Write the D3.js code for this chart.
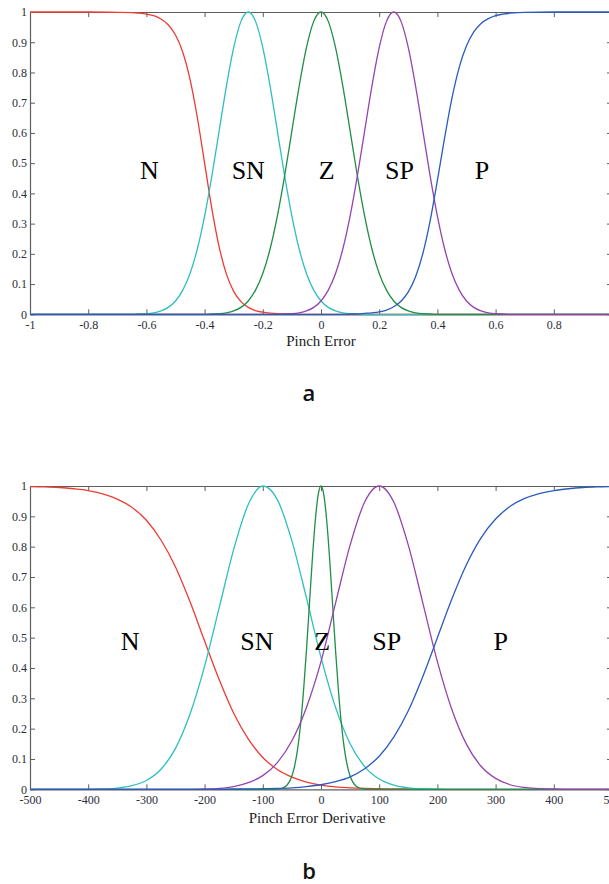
<!DOCTYPE html>
<html>
<head>
<meta charset="utf-8">
<script src="https://cdn.jsdelivr.net/npm/d3@7"></script>
<style>
  html, body { margin: 0; padding: 0; background: #fff; }
  svg { display: block; }
</style>
</head>
<body>
<svg id="chart" width="609" height="884"></svg>
<script>
// membership functions (a: pinch error, b: its derivative)

const termNames  = ["N", "SN", "Z", "SP", "P"];
const termColors = ["#ee3b33", "#2fbfbf", "#1e8f45", "#9544ad", "#2a5bbd"];

const gradeTicks  = [0, 0.1, 0.2, 0.3, 0.4, 0.5, 0.6, 0.7, 0.8, 0.9, 1];
const gradeLabels = ["0", "0.1", "0.2", "0.3", "0.4", "0.5", "0.6", "0.7", "0.8", "0.9", "1"];

// panel a
const errTicks  = [-1, -0.8, -0.6, -0.4, -0.2, 0, 0.2, 0.4, 0.6, 0.8, 1];
const errLabels = ["-1", "-0.8", "-0.6", "-0.4", "-0.2", "0", "0.2", "0.4", "0.6", "0.8", "1"];

const errX = [-1, -0.9, -0.8, -0.7,
  -0.65, -0.625, -0.6, -0.575, -0.55, -0.525, -0.5, -0.475, -0.45, -0.425,
  -0.4, -0.375, -0.35, -0.325, -0.3, -0.275, -0.25, -0.225, -0.2, -0.175,
  -0.15, -0.125, -0.1, -0.075, -0.05, -0.025, 0, 0.025, 0.05, 0.075,
  0.1, 0.125, 0.15, 0.175, 0.2, 0.225, 0.25, 0.275, 0.3, 0.325,
  0.35, 0.375, 0.4, 0.425, 0.45, 0.475, 0.5, 0.525, 0.55, 0.575,
  0.6, 0.625, 0.65,
  0.7, 0.8, 0.9, 1];

const errN = [1, 1, 1, 0.999,
  0.998, 0.996, 0.993, 0.988, 0.977, 0.958, 0.924, 0.867, 0.777, 0.651,
  0.5, 0.349, 0.223, 0.133, 0.076, 0.042, 0.023, 0.012, 0.007, 0.004,
  0.002, 0.001, 0.001, 0, 0, 0, 0, 0, 0, 0,
  0, 0, 0, 0, 0, 0, 0, 0, 0, 0,
  0, 0, 0, 0, 0, 0, 0, 0, 0, 0,
  0, 0, 0,
  0, 0, 0, 0];

const errSN = [0, 0, 0, 0,
  0, 0.001, 0.002, 0.005, 0.011, 0.023, 0.044, 0.08, 0.135, 0.216,
  0.325, 0.458, 0.607, 0.755, 0.882, 0.969, 1, 0.969, 0.882, 0.755,
  0.607, 0.458, 0.325, 0.216, 0.135, 0.08, 0.044, 0.023, 0.011, 0.005,
  0.002, 0.001, 0, 0, 0, 0, 0, 0, 0, 0,
  0, 0, 0, 0, 0, 0, 0, 0, 0, 0,
  0, 0, 0,
  0, 0, 0, 0];

const errZ = [0, 0, 0, 0,
  0, 0, 0, 0, 0, 0, 0, 0, 0, 0,
  0, 0.001, 0.002, 0.005, 0.011, 0.023, 0.044, 0.08, 0.135, 0.216,
  0.325, 0.458, 0.607, 0.755, 0.882, 0.969, 1, 0.969, 0.882, 0.755,
  0.607, 0.458, 0.325, 0.216, 0.135, 0.08, 0.044, 0.023, 0.011, 0.005,
  0.002, 0.001, 0, 0, 0, 0, 0, 0, 0, 0,
  0, 0, 0,
  0, 0, 0, 0];

const errSP = [0, 0, 0, 0,
  0, 0, 0, 0, 0, 0, 0, 0, 0, 0,
  0, 0, 0, 0, 0, 0, 0, 0, 0, 0,
  0, 0.001, 0.002, 0.005, 0.011, 0.023, 0.044, 0.08, 0.135, 0.216,
  0.325, 0.458, 0.607, 0.755, 0.882, 0.969, 1, 0.969, 0.882, 0.755,
  0.607, 0.458, 0.325, 0.216, 0.135, 0.08, 0.044, 0.023, 0.011, 0.005,
  0.002, 0.001, 0,
  0, 0, 0, 0];

const errP = [0, 0, 0, 0,
  0, 0, 0, 0, 0, 0, 0, 0, 0, 0,
  0, 0, 0, 0, 0, 0, 0, 0, 0, 0,
  0, 0, 0, 0, 0, 0, 0, 0, 0, 0,
  0.001, 0.001, 0.003, 0.005, 0.008, 0.014, 0.025, 0.043, 0.074, 0.124,
  0.201, 0.309, 0.443, 0.585, 0.715, 0.817, 0.888, 0.934, 0.962, 0.978,
  0.988, 0.993, 0.996,
  0.999, 1, 1, 1];

const errLabelX = [-0.59, -0.25, 0.02, 0.27, 0.553];

// panel b
const derivTicks  = [-500, -400, -300, -200, -100, 0, 100, 200, 300, 400, 500];
const derivLabels = ["-500", "-400", "-300", "-200", "-100", "0", "100", "200", "300", "400", "500"];

const derivX = [-500, -475, -450, -425, -400, -375, -350, -325, -300, -275,
  -250, -225, -200, -175, -150, -125, -100, -75, -50, -25,
  0, 25, 50, 75, 100, 125, 150, 175, 200, 225,
  250, 275, 300, 325, 350, 375, 400, 425, 450, 475,
  500];

const derivN = [0.998, 0.997, 0.995, 0.991, 0.985, 0.974, 0.957, 0.93, 0.887, 0.822,
  0.733, 0.618, 0.489, 0.362, 0.251, 0.166, 0.105, 0.065, 0.04, 0.024,
  0.014, 0.008, 0.005, 0.003, 0.002, 0.001, 0.001, 0, 0, 0,
  0, 0, 0, 0, 0, 0, 0, 0, 0, 0,
  0];

const derivSN = [0, 0, 0, 0, 0, 0.001, 0.004, 0.012, 0.029, 0.066,
  0.135, 0.248, 0.406, 0.598, 0.791, 0.939, 1, 0.955, 0.819, 0.631,
  0.435, 0.27, 0.15, 0.075, 0.034, 0.014, 0.005, 0.002, 0.001, 0,
  0, 0, 0, 0, 0, 0, 0, 0, 0, 0,
  0];

const derivSP = [0, 0, 0, 0, 0, 0, 0, 0, 0, 0,
  0, 0, 0.001, 0.003, 0.009, 0.022, 0.045, 0.088, 0.16, 0.27,
  0.421, 0.614, 0.805, 0.947, 1, 0.947, 0.805, 0.614, 0.421, 0.262,
  0.148, 0.076, 0.036, 0.015, 0.006, 0.002, 0.001, 0, 0, 0,
  0];

const derivP = [0, 0, 0, 0, 0, 0, 0, 0, 0, 0,
  0, 0, 0, 0, 0.001, 0.001, 0.002, 0.003, 0.005, 0.009,
  0.015, 0.025, 0.041, 0.068, 0.109, 0.172, 0.259, 0.372, 0.5, 0.628,
  0.741, 0.829, 0.891, 0.933, 0.959, 0.975, 0.985, 0.991, 0.995, 0.997,
  0.998];

// Z is much narrower, so it has its own denser sample points
const derivZx = [-500, -100, -90,
  -80, -75, -70, -65, -60, -55, -50, -45, -40, -35, -30, -25, -20, -15, -10, -5,
  0, 5, 10, 15, 20, 25, 30, 35, 40, 45, 50, 55, 60, 65, 70, 75, 80,
  90, 100, 500];

const derivZ = [0, 0, 0,
  0, 0.001, 0.002, 0.005, 0.011, 0.023, 0.044, 0.08, 0.135, 0.216, 0.325, 0.458, 0.607, 0.755, 0.882, 0.969,
  1, 0.969, 0.882, 0.755, 0.607, 0.458, 0.325, 0.216, 0.135, 0.08, 0.044, 0.023, 0.011, 0.005, 0.002, 0.001, 0,
  0, 0, 0];

const derivLabelX = [-328, -110, 2, 113, 309];

const svg = d3.select("#chart");
const left = 30, right = 612;

function drawPanel(opt) {
  const x = d3.scaleLinear().domain(opt.domain).range([left, right]);
  const y = d3.scaleLinear().domain([0, 1]).range([opt.bottom, opt.top]);
  const g = svg.append("g");

  const styleAxis = sel => {
    sel.attr("color", "#5e5e5e").attr("font-family", "'Liberation Serif', 'Times New Roman', serif")
      .attr("font-size", 12);
    sel.selectAll("text").attr("fill", "#2c2c38");
    sel.selectAll("path.domain").attr("stroke-width", 1.2);
  };

  g.append("g")
      .attr("transform", `translate(0,${opt.bottom})`)
      .call(d3.axisBottom(x).tickValues(opt.ticks).tickFormat((d, i) => opt.labels[i])
        .tickSizeInner(-5).tickSizeOuter(0).tickPadding(6))
      .call(styleAxis);
  g.append("g")
      .attr("transform", `translate(0,${opt.top})`)
      .call(d3.axisTop(x).tickValues(opt.ticks).tickFormat("").tickSizeInner(-5).tickSizeOuter(0))
      .call(styleAxis);
  g.append("g")
      .attr("transform", `translate(${left},0)`)
      .call(d3.axisLeft(y).tickValues(gradeTicks).tickFormat((d, i) => gradeLabels[i])
        .tickSizeInner(-5).tickSizeOuter(0).tickPadding(3))
      .call(styleAxis);
  g.append("g")
      .attr("transform", `translate(${right},0)`)
      .call(d3.axisRight(y).tickValues(gradeTicks).tickFormat("").tickSizeInner(-5).tickSizeOuter(0))
      .call(styleAxis);

  const line = d3.line()
      .curve(d3.curveMonotoneX)
      .x(d => x(d[0]))
      .y(d => y(d[1]));

  g.append("g")
      .attr("fill", "none")
      .attr("stroke-width", 1.3)
    .selectAll("path")
    .data(opt.series)
    .join("path")
      .attr("stroke", (d, i) => termColors[i])
      .attr("d", d => line(d.xs.map((v, i) => [v, d.ys[i]])));

  g.append("g")
      .attr("font-family", "'Liberation Serif', 'Times New Roman', serif")
      .attr("font-size", 26)
      .attr("text-anchor", "middle")
    .selectAll("text")
    .data(termNames)
    .join("text")
      .attr("x", (d, i) => x(opt.labelX[i]))
      .attr("y", y(opt.labelY))
      .attr("dy", "0.34em")
      .text(d => d);

  svg.append("text")
      .attr("x", opt.titleX)
      .attr("y", opt.titleY)
      .attr("text-anchor", "middle")
      .attr("font-family", "'Liberation Serif', 'Times New Roman', serif")
      .attr("font-size", 15)
      .attr("fill", "#222")
      .text(opt.title);

  svg.append("text")
      .attr("x", 309)
      .attr("y", opt.letterY)
      .attr("text-anchor", "middle")
      .attr("font-family", "'Open Sans', sans-serif")
      .attr("font-weight", 600)
      .attr("font-size", 22)
      .attr("fill", "#111")
      .text(opt.letter);
}

drawPanel({
  domain: [-1, 1], top: 12, bottom: 314.3,
  ticks: errTicks, labels: errLabels,
  series: [
    { xs: errX, ys: errN }, { xs: errX, ys: errSN }, { xs: errX, ys: errZ },
    { xs: errX, ys: errSP }, { xs: errX, ys: errP }
  ],
  labelX: errLabelX, labelY: 0.477,
  title: "Pinch Error", titleX: 321, titleY: 346,
  letter: "a", letterY: 401
});

drawPanel({
  domain: [-500, 500], top: 486, bottom: 789.3,
  ticks: derivTicks, labels: derivLabels,
  series: [
    { xs: derivX, ys: derivN }, { xs: derivX, ys: derivSN }, { xs: derivZx, ys: derivZ },
    { xs: derivX, ys: derivSP }, { xs: derivX, ys: derivP }
  ],
  labelX: derivLabelX, labelY: 0.487,
  title: "Pinch Error Derivative", titleX: 317, titleY: 823,
  letter: "b", letterY: 879
});
</script>
</body>
</html>
